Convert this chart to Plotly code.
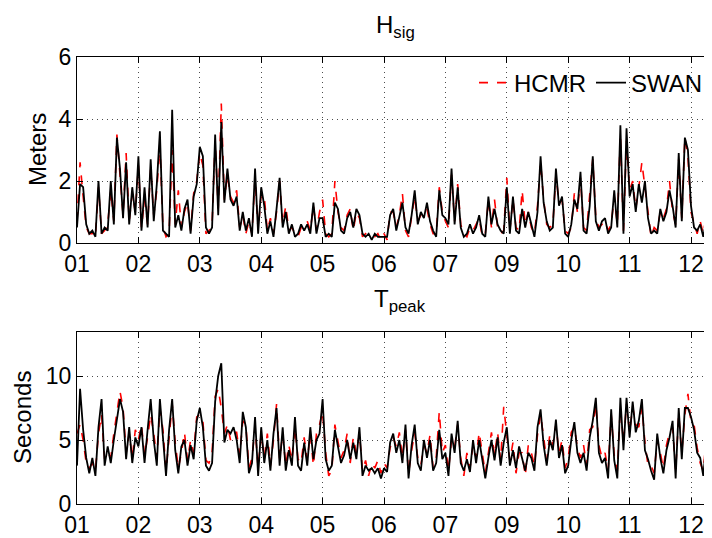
import numpy as np
import plotly.graph_objects as go
from plotly.subplots import make_subplots

tick_labels = ["01", "02", "03", "04", "05", "06", "07", "09", "10", "11", "12"]
points_per_interval = 20

hsig_swan = [
    0.5,1.9,1.8,0.6,0.3,0.4,0.2,2.0,0.3,0.5,0.4,2.0,0.6,3.4,2.4,0.8,2.6,0.6,1.8,0.9,
    2.8,0.4,1.8,0.5,2.7,0.7,1.9,3.6,0.4,0.3,0.2,4.3,0.5,0.9,0.4,1.1,1.4,0.3,1.5,1.9,
    3.1,2.8,0.5,0.3,0.5,3.5,0.9,3.9,1.3,2.4,1.4,1.2,1.5,0.4,1.0,0.4,0.8,0.2,2.4,0.3,
    1.8,1.2,0.3,0.7,0.2,1.1,2.1,0.5,1.0,0.3,0.6,0.2,0.3,0.6,0.4,0.6,0.3,1.3,0.3,0.8,
    0.8,0.2,0.3,0.2,1.3,1.1,0.4,0.3,0.8,1.0,0.5,1.1,0.9,0.3,0.2,0.3,0.1,0.3,0.2,0.2,
    0.2,0.2,0.9,1.1,0.4,0.8,1.3,0.5,0.3,0.9,1.7,0.6,1.0,0.8,1.3,0.7,0.4,0.2,1.7,0.9,
    0.8,0.6,2.4,0.6,1.8,0.5,0.2,0.3,0.6,0.3,0.5,0.9,0.3,0.2,1.5,0.6,1.1,0.6,0.4,0.3,
    1.8,0.3,1.5,0.4,0.3,1.1,0.5,1.0,0.6,0.2,1.0,2.8,1.3,0.7,0.4,0.5,2.4,1.2,1.5,0.3,
    0.2,0.6,1.4,1.1,2.3,0.4,0.3,1.2,2.8,0.7,0.4,0.7,0.8,0.3,0.5,1.7,0.5,3.8,0.3,3.7,
    1.5,1.9,1.0,1.9,1.3,2.0,0.8,0.3,0.4,0.3,1.1,0.7,1.0,1.7,1.2,0.5,2.9,0.7,3.4,3.0,
    1.2,0.5,0.4,0.6,0.2,0.8,1.3,1.8,
]

hsig_hcmr = [
    0.7,2.6,1.5,0.5,0.3,0.3,0.2,1.8,0.3,0.4,0.6,1.7,0.7,3.5,2.2,0.9,2.9,0.7,1.6,1.0,
    2.5,0.5,1.4,0.6,2.4,0.9,1.7,3.2,0.5,0.2,0.3,3.0,0.6,1.7,0.5,1.0,1.3,0.4,1.6,2.0,
    2.9,2.5,0.3,0.4,0.6,3.3,1.1,4.5,1.4,2.2,1.5,1.3,1.7,0.5,0.9,0.3,0.7,0.3,2.1,0.4,
    1.6,1.5,0.4,0.8,0.3,1.0,2.0,0.6,1.2,0.4,0.5,0.3,0.2,0.5,0.5,0.7,0.4,1.2,0.4,1.0,
    1.4,0.3,0.2,0.3,2.0,1.0,0.5,0.4,0.9,1.1,0.4,1.0,0.8,0.2,0.3,0.2,0.2,0.2,0.3,0.1,
    0.3,0.1,1.0,1.0,0.5,0.9,1.6,0.4,0.2,0.8,1.5,0.7,0.9,0.9,1.1,0.6,0.3,0.3,1.8,1.0,
    0.7,0.5,2.2,0.7,1.9,0.6,0.3,0.2,0.5,0.4,0.6,0.8,0.2,0.3,1.4,0.5,1.4,0.5,0.3,0.4,
    2.1,0.4,1.4,0.5,0.4,1.7,0.6,1.0,0.5,0.3,1.2,2.6,1.4,0.6,0.5,0.6,2.2,1.3,1.4,0.4,
    0.3,0.5,1.6,1.0,2.1,0.5,0.4,1.5,2.7,0.8,0.5,0.6,0.7,0.4,0.6,1.5,0.6,3.5,0.4,3.3,
    1.7,2.0,1.1,1.8,2.6,1.8,0.9,0.2,0.5,0.4,1.0,0.8,1.1,2.0,1.0,0.6,2.7,0.8,3.4,2.8,
    1.0,0.6,0.3,0.7,0.3,0.9,1.2,2.0,
]

tpeak_swan = [
    3.0,9.0,5.8,3.6,2.4,3.6,2.2,6.0,8.2,3.0,4.5,3.2,5.0,6.5,8.2,7.2,3.5,6.0,3.2,5.2,
    4.5,6.0,3.2,5.8,8.2,5.0,3.0,8.2,5.0,2.2,5.8,8.2,4.2,2.4,4.5,5.0,3.0,4.6,3.5,6.5,
    7.5,6.0,3.0,2.6,3.2,8.0,10.0,11.0,4.8,5.8,5.5,6.0,5.0,3.2,7.2,6.0,2.4,3.2,6.8,2.2,
    6.0,3.2,5.0,2.6,5.5,7.5,3.0,6.0,2.6,4.2,3.0,6.8,3.0,2.6,4.8,3.0,6.0,3.5,5.0,5.5,
    8.2,3.5,2.6,3.0,5.8,4.5,3.2,3.8,5.0,3.5,4.8,3.5,6.0,2.2,3.0,2.6,2.8,2.4,2.8,2.0,
    2.8,2.5,4.8,5.5,4.0,5.0,3.2,6.2,2.0,4.6,6.2,3.2,2.6,5.0,3.6,5.0,2.6,3.2,5.8,3.5,
    4.0,2.2,5.5,4.0,6.5,3.2,2.6,3.5,2.5,5.0,3.2,5.0,3.6,2.0,3.6,5.0,3.4,5.2,3.0,4.8,
    6.0,3.0,4.2,2.8,4.5,3.5,2.6,4.0,3.6,2.6,6.0,7.4,4.6,3.0,5.0,4.2,6.6,3.6,4.6,2.4,
    3.0,5.0,6.4,4.0,3.2,4.0,2.6,5.2,6.5,8.3,4.0,3.2,3.6,2.0,7.4,3.4,2.0,8.3,4.2,8.3,
    5.2,8.0,5.6,6.5,8.2,4.2,3.5,2.6,1.9,5.5,3.6,2.4,4.2,5.2,6.5,2.0,7.5,3.5,7.5,7.5,
    6.8,5.8,4.0,3.6,2.2,4.8,6.0,5.0,
]

tpeak_hcmr = [
    5.5,6.2,5.0,3.2,2.8,3.2,2.6,5.5,7.0,3.5,4.0,3.6,5.5,7.0,8.8,7.5,4.0,5.5,3.6,5.8,
    5.0,6.2,3.8,5.2,7.0,5.5,3.6,7.5,5.8,2.6,5.2,7.8,4.8,2.8,4.0,5.6,3.4,5.0,4.0,6.8,
    7.0,6.5,3.4,3.2,4.0,8.4,9.0,7.5,5.5,6.2,5.0,5.6,5.6,3.8,6.5,6.2,2.8,3.6,6.0,2.8,
    5.5,3.6,5.5,3.0,5.0,7.8,3.5,5.5,3.0,4.6,3.4,6.0,3.5,3.2,5.2,3.4,5.5,3.0,5.5,6.2,
    7.2,4.0,2.2,2.6,6.2,5.0,3.6,4.2,5.5,3.2,5.2,4.0,5.5,2.6,3.4,2.2,3.2,2.8,3.4,2.4,
    3.2,2.8,4.4,5.2,4.5,5.6,3.6,5.8,2.4,4.2,5.6,3.6,3.0,4.6,4.0,5.4,2.8,3.6,7.2,4.0,
    4.6,2.6,5.0,4.4,6.2,3.6,2.2,4.0,2.8,4.6,3.6,5.6,4.0,2.4,4.0,5.6,3.8,5.6,3.4,7.6,
    5.4,3.4,4.8,2.4,4.0,4.0,2.2,4.6,4.0,3.0,5.4,7.0,5.2,3.4,5.4,4.6,6.2,4.0,5.0,2.8,
    3.6,5.6,6.0,4.4,3.6,4.6,3.0,5.8,6.0,7.8,4.6,3.6,4.0,2.6,7.0,3.8,2.6,7.6,4.8,7.8,
    5.6,7.6,6.2,6.0,7.6,4.8,3.0,3.0,2.4,5.0,4.0,2.8,4.6,5.6,6.0,2.6,7.0,4.0,7.0,8.6,
    6.4,6.2,4.4,3.2,2.6,5.2,5.6,5.6,
]

x = np.arange(len(hsig_swan)) / points_per_interval

FONT = "Liberation Sans, Arial, Helvetica, sans-serif"
OFF = 8  # default page body margin
PAGE_W, PAGE_H = 712, 538
W, H = PAGE_W - OFF, PAGE_H - OFF
# plot area in page pixels: left 77, top 57, right 712, bottom 504
L, T = 77 - OFF, 57 - OFF
R = 0
B = H - (504 - OFF)
PW, PH = W - L - R, H - T - B

def px(xp):  # page pixel -> paper x
    return (xp - OFF - L) / PW

def py(yp):  # page pixel -> paper y
    return (H - B - (yp - OFF)) / PH

fig = make_subplots(rows=2, cols=1, shared_xaxes=False)

fig.add_trace(go.Scatter(x=x, y=hsig_hcmr, mode="lines", name="HCMR",
                         line=dict(color="red", width=1.6, dash="dash")), row=1, col=1)
fig.add_trace(go.Scatter(x=x, y=hsig_swan, mode="lines", name="SWAN",
                         line=dict(color="black", width=1.8)), row=1, col=1)
fig.add_trace(go.Scatter(x=x, y=tpeak_hcmr, mode="lines", name="HCMR", showlegend=False,
                         line=dict(color="red", width=1.6, dash="dash")), row=2, col=1)
fig.add_trace(go.Scatter(x=x, y=tpeak_swan, mode="lines", name="SWAN", showlegend=False,
                         line=dict(color="black", width=1.8)), row=2, col=1)

axis_common = dict(
    showline=True, linecolor="black", linewidth=1, mirror="ticks",
    ticks="inside", ticklen=6, tickcolor="black", automargin=False,
    showgrid=True, gridcolor="rgba(0,0,0,0.7)", griddash="1px,4px", gridwidth=1,
    zeroline=False, tickfont=dict(family=FONT, size=23, color="black"),
)

top_dom = [py(243), 1.0]
bot_dom = [0.0, py(332)]
xmax = PW / 61.4

fig.update_layout(
    width=W, height=H,
    margin=dict(l=L, r=R, t=T, b=B, autoexpand=False),
    paper_bgcolor="white", plot_bgcolor="white",
    font=dict(family=FONT, color="black"),
    xaxis=dict(range=[0, xmax], tickvals=list(range(len(tick_labels))),
               ticktext=tick_labels, anchor="y", **axis_common),
    xaxis2=dict(range=[0, xmax], tickvals=list(range(len(tick_labels))),
                ticktext=tick_labels, anchor="y2", **axis_common),
    yaxis=dict(domain=top_dom, range=[0, 6], tickvals=[0, 2, 4, 6], anchor="x", **axis_common),
    yaxis2=dict(domain=bot_dom, range=[0, 172 / 12.8], tickvals=[0, 5, 10], anchor="x2", **axis_common),
    showlegend=True,
    legend=dict(orientation="h", x=px(708), xanchor="right", y=py(83), yanchor="middle",
                bgcolor="rgba(0,0,0,0)", font=dict(family=FONT, size=24, color="black"),
                itemwidth=30, tracegroupgap=0),
)

annots = [
    dict(text="H<sub>sig</sub>", x=px(396), y=py(26), font_size=24),
    dict(text="T<sub>peak</sub>", x=px(400), y=py(300), font_size=24),
    dict(text="Meters", x=px(37), y=py(150), font_size=24, textangle=-90),
    dict(text="Seconds", x=px(22), y=py(418), font_size=24, textangle=-90),
]
for a in annots:
    fig.add_annotation(xref="paper", yref="paper", showarrow=False,
                       xanchor="center", yanchor="middle",
                       font=dict(family=FONT, size=a.pop("font_size"), color="black"), **a)

fig.write_html("out.html")
